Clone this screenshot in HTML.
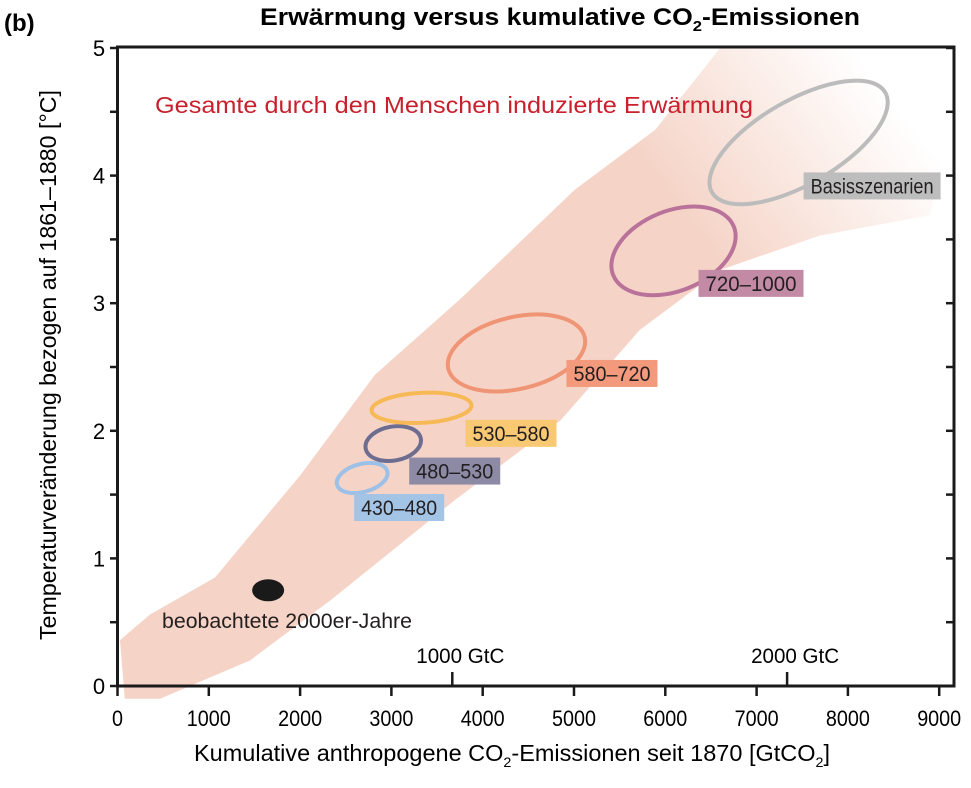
<!DOCTYPE html>
<html><head><meta charset="utf-8"><style>
body{margin:0;background:#fff}
svg text{font-family:"Liberation Sans",sans-serif}
</style></head><body>
<svg id="chart" width="971" height="783" viewBox="0 0 971 783" xmlns="http://www.w3.org/2000/svg">
<defs>
<linearGradient id="bandGrad" gradientUnits="userSpaceOnUse" x1="520" y1="400" x2="900" y2="110">
<stop offset="0" stop-color="#f5d3c6"/>
<stop offset="0.5" stop-color="#f5d3c6"/>
<stop offset="1" stop-color="#f5d3c6" stop-opacity="0"/>
</linearGradient>
<clipPath id="plotClip"><rect x="117.5" y="47" width="836.5" height="660"/></clipPath>
</defs>
<g id="bandLayer" clip-path="url(#plotClip)"></g>
<g id="marks"></g>
<g id="axes"></g>
<text x="4" y="31" font-size="24" font-weight="bold">(b)</text>
<text x="560" y="25" font-size="24" font-weight="bold" text-anchor="middle" textLength="600" lengthAdjust="spacingAndGlyphs">Erwärmung versus kumulative CO<tspan font-size="15" dy="6">2</tspan><tspan dy="-6">-Emissionen</tspan></text>
<text x="155" y="113" font-size="23" fill="#c8202c" textLength="598" lengthAdjust="spacingAndGlyphs">Gesamte durch den Menschen induzierte Erwärmung</text>
<text x="162" y="628" font-size="21" fill="#231f20" textLength="250" lengthAdjust="spacingAndGlyphs">beobachtete 2000er-Jahre</text>
<text transform="translate(56,365) rotate(-90)" font-size="23" text-anchor="middle" textLength="550" lengthAdjust="spacingAndGlyphs">Temperaturveränderung bezogen auf 1861–1880 [°C]</text>
<text x="512" y="761" font-size="23" text-anchor="middle" textLength="636" lengthAdjust="spacingAndGlyphs">Kumulative anthropogene CO<tspan font-size="14" dy="6">2</tspan><tspan dy="-6">-Emissionen seit 1870 [GtCO</tspan><tspan font-size="14" dy="6">2</tspan><tspan dy="-6">]</tspan></text>
</svg>
<script>
const scenarios=["430–480","480–530","530–580","580–720","720–1000","Basisszenarien"];
const centerX=[2680,3020,3330,4370,6090,7460];
const centerY=[1.63,1.9,2.18,2.61,3.41,4.26];
const bandX=[27,356,1068,2000,2820,3750,5010,5890,6600,8000,9200,8900,7690,6600,5720,4850,3700,2330,1450,465,80];
const bandY=[0.36,0.56,0.85,1.65,2.44,3.03,3.89,4.36,5.0,5.2,4.6,3.69,3.53,3.26,2.79,2.08,1.46,0.67,0.2,-0.1,-0.1];
const observedX=[1650];
const observedY=[0.75];
const xTicks=[0,1000,2000,3000,4000,5000,6000,7000,8000,9000];
const yTicks=[0,1,2,3,4,5];
const gtcTicks=[1000,2000];
const gtcFactor=3.667;

const X=v=>117.5+v*0.0913;
const Y=v=>686-v*127.6;
const NS="http://www.w3.org/2000/svg";
function mk(tag,attrs,parent){const e=document.createElementNS(NS,tag);for(const k in attrs)e.setAttribute(k,attrs[k]);parent.appendChild(e);return e;}
const band=document.getElementById('bandLayer'),marks=document.getElementById('marks'),axes=document.getElementById('axes');

let pts=bandX.map((x,i)=>X(x).toFixed(1)+','+Y(bandY[i]).toFixed(1)).join(' ');
const poly=mk('polygon',{points:pts,fill:'url(#bandGrad)'},band);



const strokes=['#9cc0e8','#6c6d90','#f7b955','#ef9474','#b9739a','#bcbcbc'];
const fills=['#a4c4e6','#8d8aa6','#f8c873','#f39a7d','#c28aa4','#bdbdbd'];
const rx=[26,28,50,70,65,100],ry=[14,17,15,36,40,42],rot=[-15,-10,-3,-13,-22,-30];
const boxDX=[-8,16,44,50,25,5],boxDY=[16,14,12,7,19,30],boxW=[90,91,91,91,105,137];
scenarios.forEach((s,i)=>{
 const cx=X(centerX[i]),cy=Y(centerY[i]);
 const el=mk('ellipse',{cx:cx,cy:cy,rx:rx[i],ry:ry[i],fill:'none',stroke:strokes[i],'stroke-width':4,transform:`rotate(${rot[i]} ${cx} ${cy})`},marks);
 
 
 const bx=cx+boxDX[i],by=cy+boxDY[i];
 const r=mk('rect',{x:bx,y:by,width:boxW[i],height:27,fill:fills[i]},marks);
 
 
 const t=mk('text',{x:bx+boxW[i]/2,y:by+21,'font-size':21,'text-anchor':'middle',fill:'#231f20',textLength:boxW[i]-14,lengthAdjust:'spacingAndGlyphs'},marks);
 t.textContent=s;
 
 
});
observedX.forEach((v,i)=>{
 const d=mk('ellipse',{cx:X(v),cy:Y(observedY[i]),rx:16,ry:11,fill:'#1a1a1a'},marks);
 
 
});

const frame=mk('rect',{x:117.5,y:47,width:836.5,height:639,fill:'none',stroke:'#1a1a1a','stroke-width':3},axes);


xTicks.forEach(v=>{
 const l=mk('line',{x1:X(v),x2:X(v),y1:686,y2:696,stroke:'#1a1a1a','stroke-width':2.5},axes);
 
 
 const t=mk('text',{x:X(v),y:726,'font-size':22,'text-anchor':'middle',textLength:String(v).length*11,lengthAdjust:'spacingAndGlyphs'},axes);
 t.textContent=v;
 
 
});
for(let v=0;v<=5;v+=0.5){
 const l=mk('line',{x1:110,x2:117.5,y1:Y(v),y2:Y(v),stroke:'#1a1a1a','stroke-width':2.5},axes);
 
 
 const r=mk('line',{x1:946,x2:954,y1:Y(v),y2:Y(v),stroke:'#1a1a1a','stroke-width':2.5},axes);
 
 
}
yTicks.forEach(v=>{
 const t=mk('text',{x:99,y:Y(v)+8,'font-size':22,'text-anchor':'middle'},axes);
 t.textContent=v;
 
 
});
gtcTicks.forEach(v=>{
 const px=X(v*gtcFactor);
 const l=mk('line',{x1:px,x2:px,y1:672,y2:686,stroke:'#1a1a1a','stroke-width':2.5},axes);
 
 
 const t=mk('text',{x:px+8,y:663,'font-size':21,'text-anchor':'middle',textLength:88,lengthAdjust:'spacingAndGlyphs'},axes);
 t.textContent=v+' GtC';
 
 
});
</script>
</body></html>
